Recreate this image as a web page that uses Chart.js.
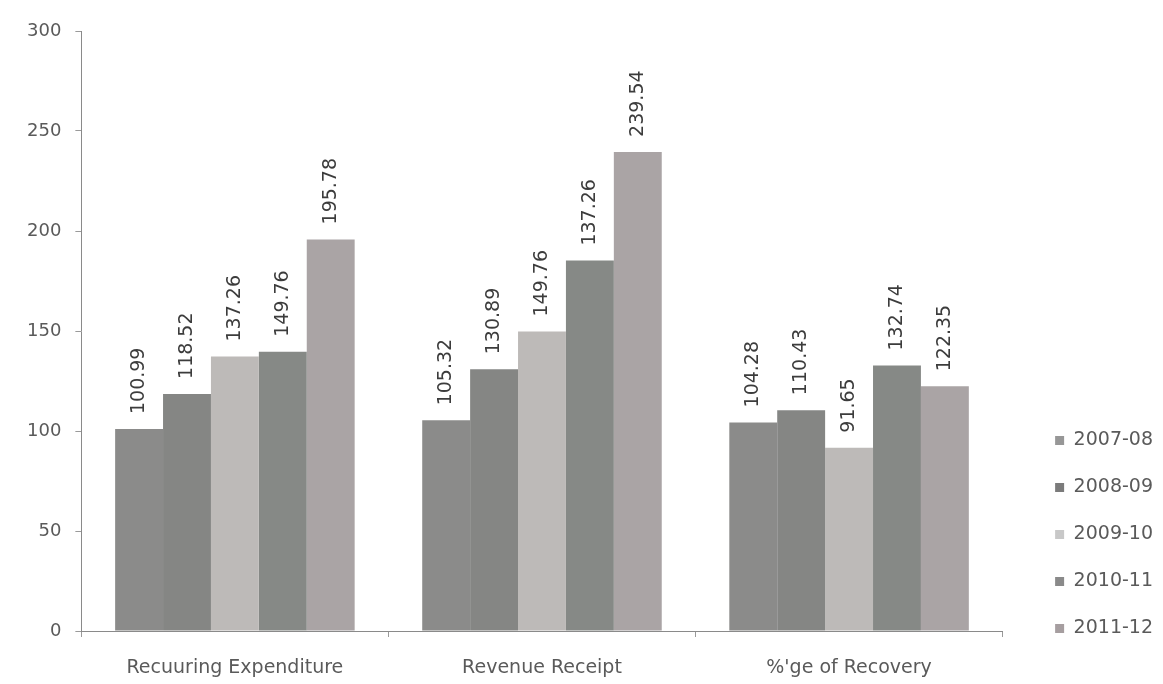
<!DOCTYPE html>
<html>
<head>
<meta charset="utf-8">
<script src="https://cdn.jsdelivr.net/npm/chart.js@4"></script>
<style>
  html, body { margin: 0; padding: 0; background: #ffffff; }
  #wrap { width: 1163px; height: 684px; position: relative; }
</style>
</head>
<body>
<div id="wrap"><canvas id="c" width="1163" height="684"></canvas></div>
<script>
// ---- data ----
const categories = ["Recuuring Expenditure", "Revenue Receipt", "%'ge of Recovery"];
const seriesNames = ["2007-08", "2008-09", "2009-10", "2010-11", "2011-12"];
// bar heights (as drawn) per series, across categories
const s200708 = [100.99, 105.32, 104.28];
const s200809 = [118.52, 130.89, 110.43];
const s200910 = [137.26, 149.76, 91.65];
const s201011 = [139.6, 185.2, 132.74];
const s201112 = [195.78, 239.54, 122.35];
// printed value labels (as they appear on the chart)
const lbl200708 = ["100.99", "105.32", "104.28"];
const lbl200809 = ["118.52", "130.89", "110.43"];
const lbl200910 = ["137.26", "149.76", "91.65"];
const lbl201011 = ["149.76", "137.26", "132.74"];
const lbl201112 = ["195.78", "239.54", "122.35"];
const yTicks = [0, 50, 100, 150, 200, 250, 300];

const seriesValues = [s200708, s200809, s200910, s201011, s201112];
const seriesLabels = [lbl200708, lbl200809, lbl200910, lbl201011, lbl201112];
const barColors = ["#8b8b8a", "#858684", "#bdbab8", "#868986", "#aaa4a5"];
const legendColors = ["#979797", "#7b7b7b", "#c8c8c8", "#8a8a8a", "#a69ea0"];

const FONT = "'DejaVu Sans', 'Open Sans', sans-serif";

const valueLabelPlugin = {
  id: 'valueLabels',
  afterLayout(chart) {
    // lift the legend block so its last entry sits level with the x axis
    const lg = chart.legend;
    if (lg) { lg.top -= 15; lg.bottom -= 15; }
  },
  afterDatasetsDraw(chart) {
    const ctx = chart.ctx;
    ctx.save();
    ctx.fillStyle = '#3c3c3c';
    ctx.font = "19px " + FONT;
    ctx.textAlign = 'left';
    ctx.textBaseline = 'middle';
    chart.data.datasets.forEach((ds, di) => {
      const meta = chart.getDatasetMeta(di);
      meta.data.forEach((bar, i) => {
        ctx.save();
        ctx.translate(bar.x, bar.y - 15);
        ctx.rotate(-Math.PI / 2);
        ctx.fillText(seriesLabels[di][i], 0, 0);
        ctx.restore();
      });
    });
    ctx.restore();
  }
};

new Chart(document.getElementById('c'), {
  type: 'bar',
  data: {
    labels: categories,
    datasets: seriesNames.map((n, i) => ({
      label: n,
      data: seriesValues[i],
      backgroundColor: barColors[i],
      borderWidth: 0,
      categoryPercentage: 0.78,
      barPercentage: 1.0
    }))
  },
  options: {
    responsive: false,
    animation: false,
    devicePixelRatio: 1,
    layout: { padding: { top: 31, left: 13, right: 0, bottom: 3 } },
    plugins: {
      legend: {
        position: 'right',
        align: 'end',
        labels: {
          boxWidth: 9,
          boxHeight: 9,
          padding: 28,
          color: '#5a5a5a',
          font: { family: FONT, size: 19 },
          generateLabels(chart) {
            return seriesNames.map((n, i) => ({
              text: n,
              fillStyle: legendColors[i],
              strokeStyle: legendColors[i],
              lineWidth: 0,
              fontColor: '#5a5a5a',
              datasetIndex: i,
              hidden: false
            }));
          }
        }
      },
      tooltip: { enabled: false }
    },
    scales: {
      x: {
        grid: {
          offset: true,
          drawOnChartArea: false,
          drawTicks: true,
          tickLength: 6,
          color: '#9a9a9a'
        },
        border: { color: '#8a8a8a', width: 1 },
        ticks: {
          color: '#5a5a5a',
          padding: 20,
          maxRotation: 0,
          font: { family: FONT, size: 19 }
        },
        afterFit(axis) { axis.height = 50; }
      },
      y: {
        min: 0,
        max: 300,
        afterBuildTicks(axis) { axis.ticks = yTicks.map(v => ({ value: v })); },
        grid: {
          drawOnChartArea: false,
          drawTicks: true,
          tickLength: 6,
          color: '#9a9a9a'
        },
        border: { color: '#8a8a8a', width: 1 },
        ticks: {
          color: '#5a5a5a',
          padding: 14,
          font: { family: FONT, size: 18 }
        }
      },
      gap: {
        position: 'right',
        display: true,
        grid: { display: false },
        border: { display: false },
        ticks: { display: false },
        afterFit(axis) { axis.width = 24.5; }
      }
    }
  },
  plugins: [valueLabelPlugin]
});
</script>
</body>
</html>
